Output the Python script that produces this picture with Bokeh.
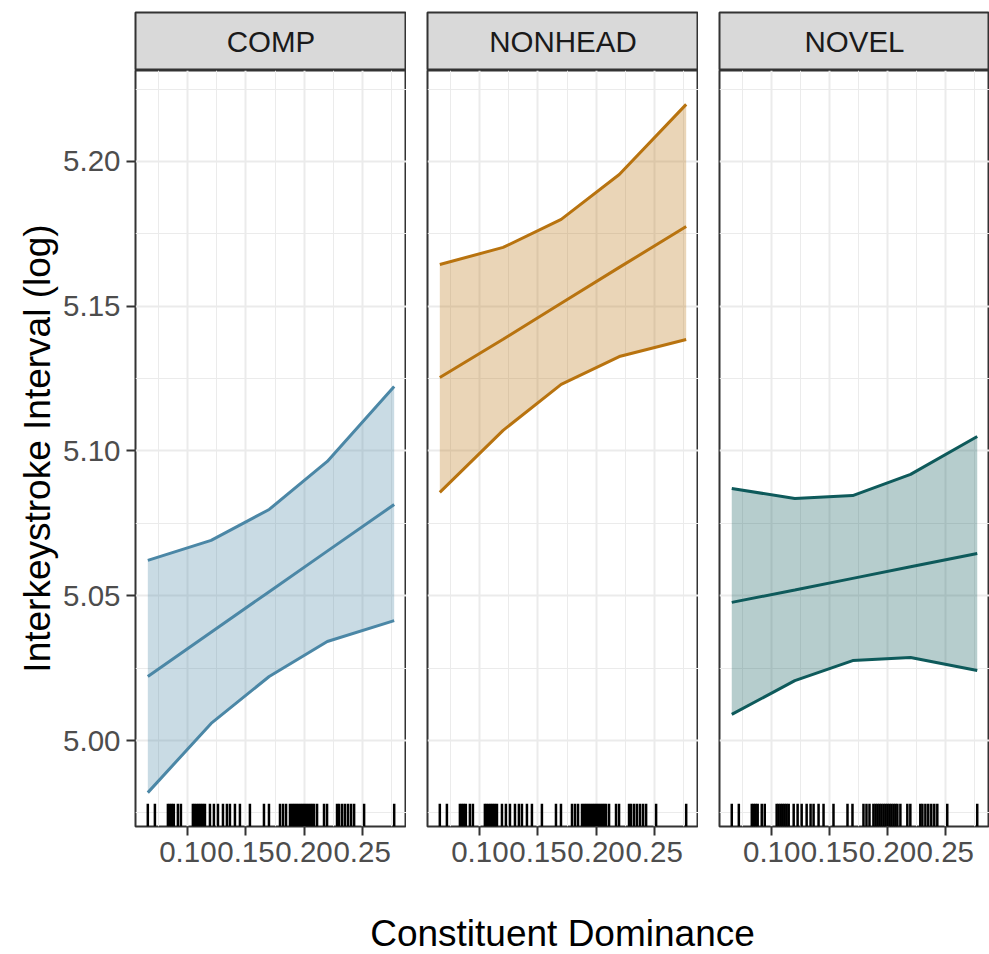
from bokeh.plotting import figure
from bokeh.layouts import row, column
from bokeh.models import Range1d, FixedTicker, PrintfTickFormatter, ColumnDataSource
from bokeh.embed import file_html
from bokeh.resources import INLINE
from bokeh.core.properties import value

# ---------------- data ----------------
facets = ["COMP", "NONHEAD", "NOVEL"]
colors = ["#4B87A6", "#B8730F", "#0E5A5B"]

x_eval = [0.0655, 0.12, 0.17, 0.22, 0.2776]

comp_fit = [5.0221, 5.0374, 5.0514, 5.0654, 5.0815]
comp_lower = [4.9820, 5.0059, 5.0221, 5.0342, 5.0414]
comp_upper = [5.0622, 5.0691, 5.0798, 5.0964, 5.1223]

nonhead_fit = [5.1254, 5.1386, 5.1510, 5.1634, 5.1775]
nonhead_lower = [5.0857, 5.1071, 5.1230, 5.1326, 5.1385]
nonhead_upper = [5.1644, 5.1703, 5.1800, 5.1955, 5.2197]

novel_fit = [5.0477, 5.0520, 5.0560, 5.0600, 5.0646]
novel_lower = [5.0090, 5.0207, 5.0276, 5.0287, 5.0242]
novel_upper = [5.0870, 5.0836, 5.0846, 5.0919, 5.1050]

rug_x = [0.0655, 0.0716, 0.0828, 0.0845, 0.0862, 0.0879, 0.0914, 0.0940,
         0.1043, 0.1060, 0.1078, 0.1095, 0.1112, 0.1129, 0.1147, 0.1190,
         0.1224, 0.1259, 0.1302, 0.1336, 0.1362, 0.1405, 0.1448, 0.1534,
         0.1655, 0.1698, 0.1793, 0.1819, 0.1845, 0.1879, 0.1897, 0.1914,
         0.1931, 0.1948, 0.1966, 0.1983, 0.2000, 0.2017, 0.2034, 0.2052,
         0.2069, 0.2086, 0.2112, 0.2172, 0.2198, 0.2284, 0.2302, 0.2328,
         0.2353, 0.2379, 0.2405, 0.2431, 0.2517, 0.2776]

x_ticks = [0.10, 0.15, 0.20, 0.25]
x_minor = [0.075, 0.125, 0.175, 0.225, 0.275]
y_ticks = [5.00, 5.05, 5.10, 5.15, 5.20]
y_minor = [4.975, 5.025, 5.075, 5.125, 5.175, 5.225]
x_lim = (0.0549, 0.2882)
y_lim = (4.9703, 5.2314)

x_title = "Constituent Dominance"
y_title = "Interkeystroke Interval (log)"

series = {
    "COMP": (comp_fit, comp_lower, comp_upper),
    "NONHEAD": (nonhead_fit, nonhead_lower, nonhead_upper),
    "NOVEL": (novel_fit, novel_lower, novel_upper),
}

FONT = "Liberation Sans"
BORDER = "#333333"

left_borders = [135, 21, 21]
frame_widths = [271, 271, 270]

cols = []
for i, name in enumerate(facets):
    # strip header
    s = figure(width=None, height=None, frame_width=frame_widths[i], frame_height=58,
               x_range=Range1d(0, 1), y_range=Range1d(0, 1),
               x_axis_location=None, y_axis_location=None,
               toolbar_location=None, output_backend="svg",
               min_border_left=left_borders[i], min_border_right=0,
               min_border_top=12, min_border_bottom=0)
    s.background_fill_color = "#D9D9D9"
    s.border_fill_color = "white"
    s.outline_line_color = BORDER
    s.outline_line_width = 2
    s.grid.visible = False
    s.text(x=[0.5], y=[0.5], text=[name], text_align="center", text_baseline="middle",
           text_font=value(FONT), text_font_size="29.5px", text_color="#1A1A1A")

    # panel
    p = figure(width=None, height=None, frame_width=frame_widths[i], frame_height=756,
               x_range=Range1d(*x_lim), y_range=Range1d(*y_lim),
               y_axis_location="left" if i == 0 else None,
               toolbar_location=None, output_backend="svg",
               min_border_left=left_borders[i], min_border_right=0,
               min_border_top=0, min_border_bottom=58)
    p.background_fill_color = "white"
    p.outline_line_color = BORDER
    p.outline_line_width = 2

    xt = FixedTicker(ticks=x_ticks, minor_ticks=x_minor)
    yt = FixedTicker(ticks=y_ticks, minor_ticks=y_minor)
    p.xaxis.ticker = xt
    p.xgrid.ticker = xt
    p.ygrid.ticker = yt
    for g in (p.xgrid, p.ygrid):
        g.grid_line_color = "#EBEBEB"
        g.grid_line_width = 2
        g.minor_grid_line_color = "#EBEBEB"
        g.minor_grid_line_width = 1

    axes = list(p.xaxis) + (list(p.yaxis) if i == 0 else [])
    for ax in axes:
        ax.axis_line_color = None
        ax.major_tick_line_color = BORDER
        ax.major_tick_line_width = 2
        ax.major_tick_out = 9
        ax.major_tick_in = 0
        ax.minor_tick_out = 0
        ax.minor_tick_in = 0
        ax.major_label_text_font = FONT
        ax.major_label_text_font_size = "29.5px"
        ax.major_label_text_color = "#4D4D4D"
        ax.formatter = PrintfTickFormatter(format="%.2f")
    p.xaxis.major_label_standoff = 6
    if i == 0:
        p.yaxis.ticker = yt
        p.yaxis.major_label_standoff = 6
        p.yaxis.axis_label = y_title
        p.yaxis.axis_label_text_font = FONT
        p.yaxis.axis_label_text_font_size = "37px"
        p.yaxis.axis_label_text_font_style = "normal"
        p.yaxis.axis_label_text_color = "black"
        p.yaxis.axis_label_standoff = 2

    fit, lower, upper = series[name]
    c = colors[i]
    src = ColumnDataSource(dict(x=x_eval, fit=fit, lower=lower, upper=upper))
    p.varea(x="x", y1="lower", y2="upper", source=src, fill_color=c, fill_alpha=0.3)
    p.line(x="x", y="lower", source=src, line_color=c, line_width=3)
    p.line(x="x", y="upper", source=src, line_color=c, line_width=3)
    p.line(x="x", y="fit", source=src, line_color=c, line_width=3)

    rug_len = 0.03 * (y_lim[1] - y_lim[0])
    rsrc = ColumnDataSource(dict(x=rug_x, y0=[y_lim[0]] * len(rug_x),
                                 y1=[y_lim[0] + rug_len] * len(rug_x)))
    p.segment(x0="x", y0="y0", x1="x", y1="y1", source=rsrc,
              line_color="black", line_width=2.5)

    cols.append(column(s, p, spacing=0))

# shared x-axis title below all panels
lab_h = 954 - 12 - 58 - 756 - 58
t = figure(width=None, height=None, frame_width=854, frame_height=lab_h,
           x_range=Range1d(0, 1), y_range=Range1d(0, lab_h),
           x_axis_location=None, y_axis_location=None,
           toolbar_location=None, output_backend="svg",
           min_border_left=135, min_border_right=0, min_border_top=0, min_border_bottom=0)
t.outline_line_color = None
t.grid.visible = False
t.text(x=[0.5], y=[21], text=[x_title], text_align="center", text_baseline="middle",
       text_font=value(FONT), text_font_size="37px", text_color="black")

layout = column(row(*cols, spacing=0), t, spacing=0)

open("out.html", "w").write(file_html(layout, INLINE))
